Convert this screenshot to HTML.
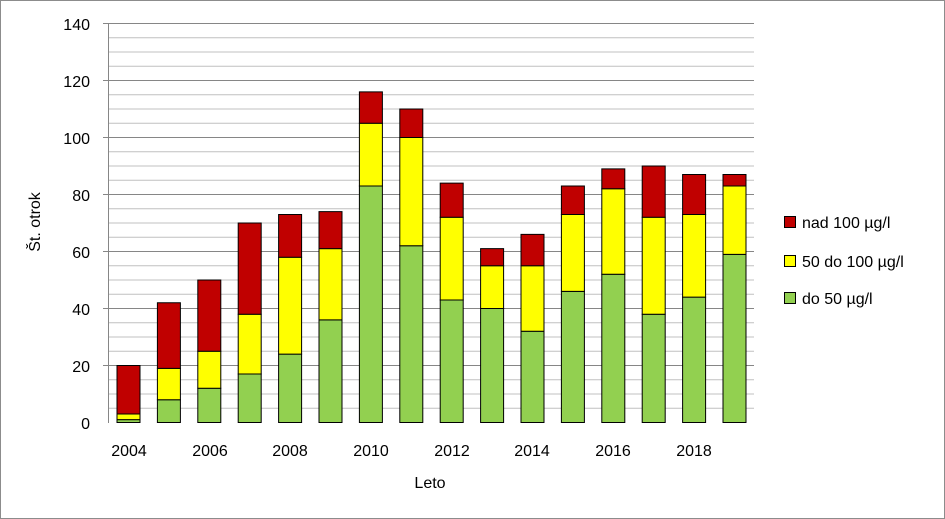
<!DOCTYPE html>
<html><head><meta charset="utf-8"><style>
body{margin:0;background:#fff}
svg{display:block;font-family:"Liberation Sans",Calibri,sans-serif}
</style></head><body>
<svg width="945" height="519" viewBox="0 0 945 519">
<rect x="0.5" y="0.5" width="944" height="518" fill="#fff" stroke="#8c8c8c"/>
<g stroke="#c0c0c0" stroke-width="1">
<line x1="108" x2="754" y1="408.25" y2="408.25"/><line x1="108" x2="754" y1="394" y2="394"/><line x1="108" x2="754" y1="379.75" y2="379.75"/>
<line x1="108" x2="754" y1="351.25" y2="351.25"/><line x1="108" x2="754" y1="337" y2="337"/><line x1="108" x2="754" y1="322.75" y2="322.75"/>
<line x1="108" x2="754" y1="294.25" y2="294.25"/><line x1="108" x2="754" y1="280" y2="280"/><line x1="108" x2="754" y1="265.75" y2="265.75"/>
<line x1="108" x2="754" y1="237.25" y2="237.25"/><line x1="108" x2="754" y1="223" y2="223"/><line x1="108" x2="754" y1="208.75" y2="208.75"/>
<line x1="108" x2="754" y1="180.25" y2="180.25"/><line x1="108" x2="754" y1="166" y2="166"/><line x1="108" x2="754" y1="151.75" y2="151.75"/>
<line x1="108" x2="754" y1="123.25" y2="123.25"/><line x1="108" x2="754" y1="109" y2="109"/><line x1="108" x2="754" y1="94.75" y2="94.75"/>
<line x1="108" x2="754" y1="66.25" y2="66.25"/><line x1="108" x2="754" y1="52" y2="52"/><line x1="108" x2="754" y1="37.75" y2="37.75"/>
</g>
<g stroke="#868686" stroke-width="1">
<line x1="103" x2="754" y1="365.5" y2="365.5"/><line x1="103" x2="754" y1="308.5" y2="308.5"/><line x1="103" x2="754" y1="251.5" y2="251.5"/>
<line x1="103" x2="754" y1="194.5" y2="194.5"/><line x1="103" x2="754" y1="137.5" y2="137.5"/><line x1="103" x2="754" y1="80.5" y2="80.5"/>
<line x1="103" x2="754" y1="23.5" y2="23.5"/>
<line x1="108.5" x2="108.5" y1="23" y2="423"/>
</g>
<g transform="translate(0,422.5) scale(1,-2.85)" stroke="#000" stroke-width="1">
<g fill="#92d050">
<rect vector-effect="non-scaling-stroke" x="117" y="0" width="23" height="1"/>
<rect vector-effect="non-scaling-stroke" x="157.4" y="0" width="23" height="8"/>
<rect vector-effect="non-scaling-stroke" x="197.8" y="0" width="23" height="12"/>
<rect vector-effect="non-scaling-stroke" x="238.2" y="0" width="23" height="17"/>
<rect vector-effect="non-scaling-stroke" x="278.6" y="0" width="23" height="24"/>
<rect vector-effect="non-scaling-stroke" x="319" y="0" width="23" height="36"/>
<rect vector-effect="non-scaling-stroke" x="359.4" y="0" width="23" height="83"/>
<rect vector-effect="non-scaling-stroke" x="399.8" y="0" width="23" height="62"/>
<rect vector-effect="non-scaling-stroke" x="440.2" y="0" width="23" height="43"/>
<rect vector-effect="non-scaling-stroke" x="480.6" y="0" width="23" height="40"/>
<rect vector-effect="non-scaling-stroke" x="521" y="0" width="23" height="32"/>
<rect vector-effect="non-scaling-stroke" x="561.4" y="0" width="23" height="46"/>
<rect vector-effect="non-scaling-stroke" x="601.8" y="0" width="23" height="52"/>
<rect vector-effect="non-scaling-stroke" x="642.2" y="0" width="23" height="38"/>
<rect vector-effect="non-scaling-stroke" x="682.6" y="0" width="23" height="44"/>
<rect vector-effect="non-scaling-stroke" x="723" y="0" width="23" height="59"/>
</g>
<g fill="#ffff00">
<rect vector-effect="non-scaling-stroke" x="117" y="1" width="23" height="2"/>
<rect vector-effect="non-scaling-stroke" x="157.4" y="8" width="23" height="11"/>
<rect vector-effect="non-scaling-stroke" x="197.8" y="12" width="23" height="13"/>
<rect vector-effect="non-scaling-stroke" x="238.2" y="17" width="23" height="21"/>
<rect vector-effect="non-scaling-stroke" x="278.6" y="24" width="23" height="34"/>
<rect vector-effect="non-scaling-stroke" x="319" y="36" width="23" height="25"/>
<rect vector-effect="non-scaling-stroke" x="359.4" y="83" width="23" height="22"/>
<rect vector-effect="non-scaling-stroke" x="399.8" y="62" width="23" height="38"/>
<rect vector-effect="non-scaling-stroke" x="440.2" y="43" width="23" height="29"/>
<rect vector-effect="non-scaling-stroke" x="480.6" y="40" width="23" height="15"/>
<rect vector-effect="non-scaling-stroke" x="521" y="32" width="23" height="23"/>
<rect vector-effect="non-scaling-stroke" x="561.4" y="46" width="23" height="27"/>
<rect vector-effect="non-scaling-stroke" x="601.8" y="52" width="23" height="30"/>
<rect vector-effect="non-scaling-stroke" x="642.2" y="38" width="23" height="34"/>
<rect vector-effect="non-scaling-stroke" x="682.6" y="44" width="23" height="29"/>
<rect vector-effect="non-scaling-stroke" x="723" y="59" width="23" height="24"/>
</g>
<g fill="#c00000">
<rect vector-effect="non-scaling-stroke" x="117" y="3" width="23" height="17"/>
<rect vector-effect="non-scaling-stroke" x="157.4" y="19" width="23" height="23"/>
<rect vector-effect="non-scaling-stroke" x="197.8" y="25" width="23" height="25"/>
<rect vector-effect="non-scaling-stroke" x="238.2" y="38" width="23" height="32"/>
<rect vector-effect="non-scaling-stroke" x="278.6" y="58" width="23" height="15"/>
<rect vector-effect="non-scaling-stroke" x="319" y="61" width="23" height="13"/>
<rect vector-effect="non-scaling-stroke" x="359.4" y="105" width="23" height="11"/>
<rect vector-effect="non-scaling-stroke" x="399.8" y="100" width="23" height="10"/>
<rect vector-effect="non-scaling-stroke" x="440.2" y="72" width="23" height="12"/>
<rect vector-effect="non-scaling-stroke" x="480.6" y="55" width="23" height="6"/>
<rect vector-effect="non-scaling-stroke" x="521" y="55" width="23" height="11"/>
<rect vector-effect="non-scaling-stroke" x="561.4" y="73" width="23" height="10"/>
<rect vector-effect="non-scaling-stroke" x="601.8" y="82" width="23" height="7"/>
<rect vector-effect="non-scaling-stroke" x="642.2" y="72" width="23" height="18"/>
<rect vector-effect="non-scaling-stroke" x="682.6" y="73" width="23" height="14"/>
<rect vector-effect="non-scaling-stroke" x="723" y="83" width="23" height="4"/>
</g>
</g>
<g font-size="16" fill="#000" text-anchor="end">
<text x="90" y="429">0</text><text x="90" y="372">20</text><text x="90" y="315">40</text>
<text x="90" y="258">60</text><text x="90" y="201">80</text><text x="90" y="144">100</text>
<text x="90" y="87">120</text><text x="90" y="30">140</text>
</g>
<g font-size="16" fill="#000" text-anchor="middle">
<text x="129" y="456">2004</text><text x="210" y="456">2006</text><text x="290" y="456">2008</text>
<text x="371" y="456">2010</text><text x="452" y="456">2012</text><text x="532" y="456">2014</text>
<text x="613" y="456">2016</text><text x="694" y="456">2018</text>
<text x="430" y="488">Leto</text>
<text transform="translate(40,222) rotate(-90)">Št. otrok</text>
</g>
<g stroke="#000" stroke-width="1">
<rect x="784.5" y="216.5" width="11" height="11" fill="#c00000"/>
<rect x="784.5" y="255.5" width="11" height="11" fill="#ffff00"/>
<rect x="784.5" y="292.5" width="11" height="11" fill="#92d050"/>
</g>
<g font-size="16" fill="#000">
<text x="802" y="228">nad 100 µg/l</text>
<text x="802" y="267">50 do 100 µg/l</text>
<text x="802" y="304">do 50 µg/l</text>
</g>
</svg>
</body></html>
